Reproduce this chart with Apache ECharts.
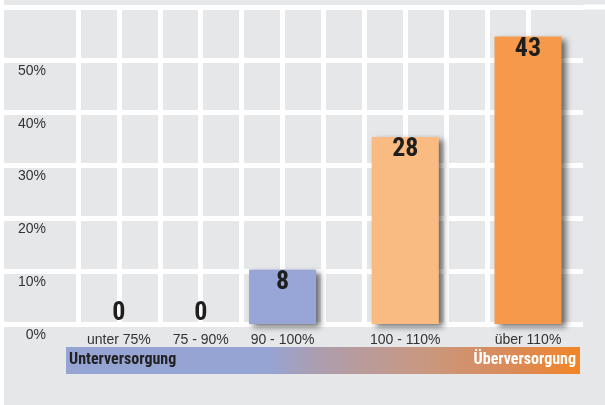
<!DOCTYPE html>
<html>
<head>
<meta charset="utf-8">
<script src="https://cdn.jsdelivr.net/npm/echarts@6/dist/echarts.min.js"></script>
<style>
  html, body { margin: 0; padding: 0; background: #ffffff; }
  #chart { position: absolute; left: 4px; top: 0; width: 601px; height: 405px; }
</style>
</head>
<body>
<div id="chart"></div>
<script>
// ---- data ----
const categories = ['unter 75%', '75 - 90%', '90 - 100%', '100 - 110%', 'über 110%'];
const counts = [0, 0, 8, 28, 43];
const percentValues = [0, 0, 10.3, 35.4, 54.4];
const yTickValues = [0, 10, 20, 30, 40, 50];
const bandLabels = ['Unterversorgung', 'Überversorgung'];

// ---- layout / style ----
const columnSlot = [1, 3, 5, 8, 11];
const barColors = ['#97a6d6', '#97a6d6', '#97a6d6', '#fabb82', '#f6994a'];
const narrow = '"Roboto Condensed", "Open Sans Condensed", sans-serif';
const regular = '"Liberation Sans", Arial, sans-serif';

const chart = echarts.init(document.getElementById('chart'));

const gridTop = 7, gridBottom = 81;
const whiteLine = { show: true, lineStyle: { color: '#ffffff', width: 5 } };

const xMaxB = 505 / (450 / 11);
const vLineColors = [];
for (let i = 0; i <= 11; i++) vLineColors.push('#ffffff');
vLineColors.push('rgba(0,0,0,0)', 'rgba(0,0,0,0)');

const option = {
  backgroundColor: '#e6e7e9',
  animation: false,
  grid: [
    { left: 0, width: 74, top: gridTop, bottom: gridBottom },
    { left: 74, right: 22, top: gridTop, bottom: gridBottom }
  ],
  xAxis: [
    { gridIndex: 0, type: 'value', min: 0, max: 1, show: false },
    {
      gridIndex: 1, type: 'value', min: 0, max: xMaxB, interval: 1,
      axisLine: { show: false }, axisTick: { show: false },
      splitLine: { show: true, lineStyle: { color: vLineColors, width: 5 } },
      axisLabel: {
        margin: 9, color: '#333333', fontFamily: regular, fontSize: 14,
        showMaxLabel: false,
        formatter: function (v) {
          const i = columnSlot.indexOf(Math.round(v * 1000) / 1000);
          return i >= 0 ? categories[i] : '';
        }
      }
    }
  ],
  yAxis: [
    {
      gridIndex: 0, type: 'value', min: 0, max: 60, interval: 10,
      axisLine: { show: false }, axisTick: { show: false },
      splitLine: whiteLine,
      axisLabel: {
        inside: true, margin: 42, align: 'right', verticalAlign: 'top',
        padding: [4, 0, 0, 0],
        color: '#333333', fontFamily: regular, fontSize: 14,
        formatter: function (v) { return yTickValues.indexOf(v) >= 0 ? v + '%' : ''; }
      }
    },
    {
      gridIndex: 1, type: 'value', min: 0, max: 60, interval: 10,
      axisLine: { show: false }, axisTick: { show: false },
      axisLabel: { show: false },
      splitLine: whiteLine
    }
  ],
  series: [{
    type: 'bar',
    xAxisIndex: 1, yAxisIndex: 1,
    barWidth: 67,
    clip: false,
    data: percentValues.map(function (p, i) {
      const item = {
        value: [columnSlot[i], p],
        itemStyle: {
          color: barColors[i],
          shadowColor: 'rgba(0,0,0,0.55)', shadowBlur: 6,
          shadowOffsetX: 4, shadowOffsetY: 3
        }
      };
      if (p === 0) item.label = { position: 'top', distance: -2 };
      return item;
    }),
    label: {
      show: true, position: 'insideTop', distance: 0,
      color: '#1e1e1e', fontFamily: narrow, fontWeight: 'bold', fontSize: 26,
      formatter: function (params) { return String(counts[params.dataIndex]); }
    }
  }],
  graphic: [
    {
      type: 'rect', left: 579, top: 4.5, z: 1, silent: true,
      shape: { width: 22, height: 5 },
      style: { fill: '#ffffff' }
    },
    {
      type: 'rect', left: 62, top: 347, z: 10,
      shape: { width: 514, height: 27 },
      style: {
        fill: new echarts.graphic.LinearGradient(0, 0, 1, 0, [
          { offset: 0, color: '#96a4d4' },
          { offset: 0.39, color: '#96a4d4' },
          { offset: 0.5, color: '#ae9dac' },
          { offset: 0.69, color: '#c89882' },
          { offset: 0.88, color: '#dc8a55' },
          { offset: 1, color: '#f28526' }
        ])
      }
    },
    {
      type: 'text', left: 65, top: 352, z: 11,
      style: { text: bandLabels[0], fill: '#222222', font: 'bold 16px ' + narrow }
    },
    {
      type: 'text', right: 29, top: 352, z: 11,
      style: { text: bandLabels[1], fill: '#ffffff', font: 'bold 16px ' + narrow }
    }
  ]
};
chart.setOption(option);
</script>
</body>
</html>
